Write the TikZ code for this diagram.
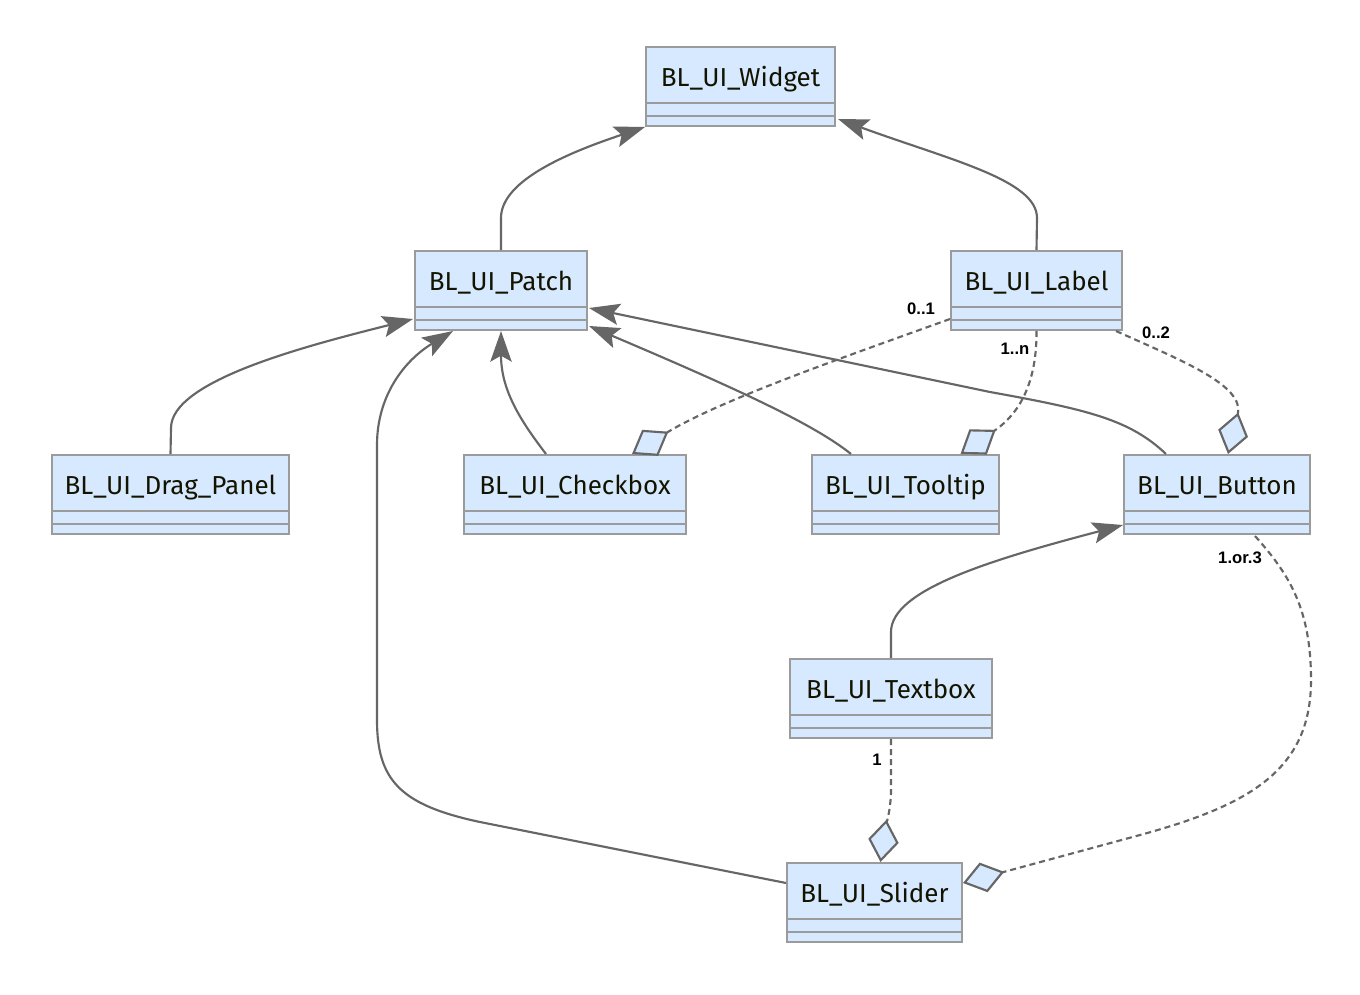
\documentclass[tikz,border=0pt]{standalone}
\usepackage{fontspec}
\usepackage{xcolor}
\usetikzlibrary{arrows.meta,calc}
\setmainfont{Fira Sans}
\newfontfamily\multfont{Liberation Sans}
\definecolor{classFill}{RGB}{214,233,255}
\definecolor{classBorder}{RGB}{155,155,155}
\definecolor{edgeGray}{RGB}{102,102,102}
\definecolor{classText}{RGB}{19,19,0}

\begin{document}
\begin{tikzpicture}[x=0.75pt,y=-0.75pt,
    classbox/.style={draw=classBorder, fill=classFill, line width=1.5pt, minimum height=59.25pt,
      inner sep=0pt, text height=12pt, text depth=12pt, text=classText, font=\fontsize{19.5}{22}\selectfont},
    sepline/.style={draw=classBorder, line width=1.5pt},
    inherit/.style={draw=edgeGray, line width=1.6pt, -{Stealth[length=23pt,width=16pt,inset=4.5pt]}},
    aggr/.style={draw=edgeGray, line width=1.6pt, dash pattern=on 4.5pt off 3pt,
      -{Diamond[length=32pt,width=23pt,fill=classFill]}},
    mult/.style={font=\multfont\bfseries\fontsize{12.5}{14}\selectfont, text=black, inner sep=0pt}]
                \fill[white] (0,0) rectangle (1360,995);
                \useasboundingbox (0,0) rectangle (1360,995);

                % Classes
                \node[classbox, minimum width=141.75pt] (widget) at (740.5,86.5) {BL\_UI\_Widget};
                \node[classbox, minimum width=129pt] (patch) at (501,290.5) {BL\_UI\_Patch};
                \node[classbox, minimum width=128.25pt] (label) at (1036.5,290.5) {BL\_UI\_Label};
                \node[classbox, minimum width=177.75pt] (drag) at (170.5,494.5) {BL\_UI\_Drag\_Panel};
                \node[classbox, minimum width=166.5pt] (checkbox) at (575,494.5) {BL\_UI\_Checkbox};
                \node[classbox, minimum width=140.25pt] (tooltip) at (905.5,494.5) {BL\_UI\_Tooltip};
                \node[classbox, minimum width=139.5pt] (button) at (1217,494.5) {BL\_UI\_Button};
                \node[classbox, minimum width=151.5pt] (textbox) at (891,698.5) {BL\_UI\_Textbox};
                \node[classbox, minimum width=131.25pt] (slider) at (874.5,902.5) {BL\_UI\_Slider};

                % Empty attribute and method compartments
                \foreach \c in {widget,patch,label,drag,checkbox,tooltip,button,textbox,slider} {
                    \draw[sepline] ($(\c.south west)+(0,-24)$) -- ($(\c.south east)+(0,-24)$);
                    \draw[sepline] ($(\c.south west)+(0,-11)$) -- ($(\c.south east)+(0,-11)$);
                }

                % Inheritance
                \draw[inherit] (patch.north) -- (501,218) .. controls (501,180) and (570,152) .. (widget.south west);
                \draw[inherit] (label.north) -- (1037,218) .. controls (1037,180) and (950,160) .. ($(widget.south east)+(2,-8)$);
                \draw[inherit] (drag.north) -- (171,428) .. controls (171,380) and (310,345) .. ($(patch.south west)+(-1,-12)$);
                \draw[inherit] ($(slider.north west)+(0,21)$) -- (480,822) .. controls (400,805) and (377,780) .. (377,720)
                    -- (377,445) .. controls (377,395) and (405,360) .. ($(patch.south)+(-48,0)$);
                \draw[inherit] ($(checkbox.north)+(-29,0)$) .. controls (520,420) and (501,390) .. (patch.south);
                \draw[inherit] ($(tooltip.north)+(-54.5,0)$) .. controls (815,425) and (740,390) .. ($(patch.south east)+(1,-5)$);
                \draw[inherit] ($(button.north)+(-51,0)$) .. controls (1130,420) and (1090,410) .. (990,392)
                    -- ($(patch.south east)+(1,-23)$);
                \draw[inherit] (textbox.north) -- (891,632) .. controls (891,590) and (990,560) .. ($(button.south west)+(0,-10)$);

                % Aggregation
                \draw[aggr] ($(label.south west)+(0,-12)$) .. controls (850,355) and (720,400) .. ($(checkbox.north)+(57,0)$);
                \draw[aggr] (label.south) .. controls (1037,395) and (1010,420) .. ($(tooltip.north)+(55,0)$);
                \draw[aggr] ($(label.south east)+(-7,0)$) .. controls (1180,360) and (1245,385) .. ($(button.north)+(11,0)$);
                \draw[aggr] ($(button.south)+(38,1)$) .. controls (1290,575) and (1311,610) .. (1311,680)
                    .. controls (1311,770) and (1250,805) .. (1140,835) -- ($(slider.north east)+(0,21)$);
                \draw[aggr] (textbox.south) -- (891,790) .. controls (891,810) and (885,830) .. ($(slider.north)+(6,0)$);

                % Multiplicities
                \node[mult] (m01) at ($(label.south west)+(-29,-22)$) {0..1};
                \node[mult] (m1n) at ($(label.south)+(-21.5,18)$) {1..n};
                \node[mult] (m02) at ($(label.south east)+(33,2)$) {0..2};
                \node[mult] (m13) at ($(button.south)+(23,23)$) {1.or.3};
                \node[mult] (m1) at ($(textbox.south)+(-14,21)$) {1};
            \end{tikzpicture}
\end{document}
